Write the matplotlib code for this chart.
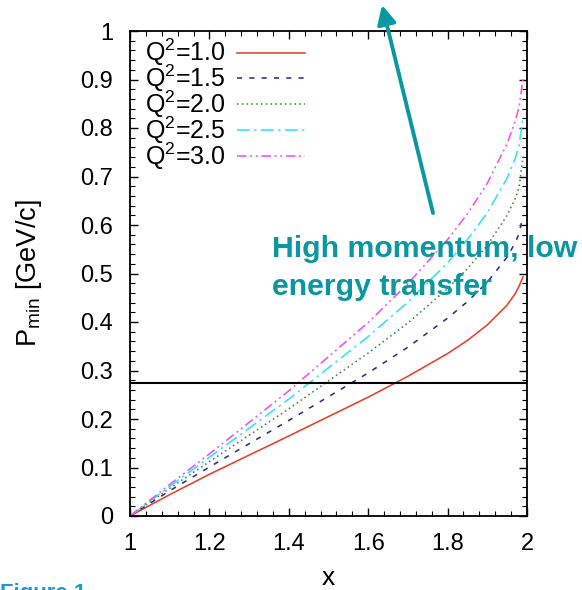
import matplotlib.pyplot as plt

# x (Bjorken x) sample points and P_min [GeV/c]
x = [1.0, 1.1, 1.2, 1.4, 1.6, 1.7, 1.8, 1.85, 1.9, 1.95, 1.97, 1.98, 1.99]
p_q2_10 = [0, 0.044, 0.086, 0.165, 0.245, 0.288, 0.335, 0.362, 0.394, 0.435, 0.458, 0.474, 0.493]
p_q2_15 = [0, 0.052, 0.101, 0.197, 0.295, 0.348, 0.408, 0.442, 0.482, 0.534, 0.563, 0.582, 0.620]
p_q2_20 = [0, 0.057, 0.112, 0.221, 0.336, 0.398, 0.469, 0.510, 0.558, 0.620, 0.654, 0.677, 0.741]
p_q2_25 = [0, 0.061, 0.121, 0.241, 0.370, 0.441, 0.522, 0.570, 0.625, 0.697, 0.737, 0.763, 0.823]
p_q2_30 = [0, 0.065, 0.128, 0.258, 0.399, 0.479, 0.570, 0.623, 0.686, 0.768, 0.813, 0.843, 0.902]
q2_labels = ['1.0', '1.5', '2.0', '2.5', '3.0']
p_cut = 0.275

xticks = [1, 1.2, 1.4, 1.6, 1.8, 2]
xtick_labels = ['1', '1.2', '1.4', '1.6', '1.8', '2']
yticks = [0, 0.1, 0.2, 0.3, 0.4, 0.5, 0.6, 0.7, 0.8, 0.9, 1]
ytick_labels = ['0', '0.1', '0.2', '0.3', '0.4', '0.5', '0.6', '0.7', '0.8', '0.9', '1']

plt.rcParams['font.family'] = ['Liberation Sans', 'DejaVu Sans']
plt.rcParams['mathtext.fontset'] = 'custom'
plt.rcParams['mathtext.rm'] = 'Liberation Sans'
plt.rcParams['mathtext.it'] = 'Liberation Sans:italic'

fig = plt.figure(figsize=(5.82, 5.9), dpi=100)
ax = fig.add_axes([130 / 582, 74 / 590, 397 / 582, 485 / 590])

series = [p_q2_10, p_q2_15, p_q2_20, p_q2_25, p_q2_30]
colors = ['#e8402a', '#2b2b8f', '#3c8c3c', '#30e4f0', '#f050f0']
styles = ['-', (0, (3.2, 4.5)), (0, (1, 2)), (0, (8, 2.8, 1.4, 2.8)), (0, (6, 2.3, 1.2, 2.3, 1.2, 2.3))]

for vals, lab, c, ls in zip(series, q2_labels, colors, styles):
    ax.plot(x, vals, color=c, linestyle=ls, lw=1.15, label='Q$^{2}$=' + lab)

ax.axhline(p_cut, color='black', lw=1.5)

ax.set_xlim(1, 2)
ax.set_ylim(0, 1)
ax.set_xticks(xticks)
ax.set_xticklabels(xtick_labels)
ax.set_yticks(yticks)
ax.set_yticklabels(ytick_labels)
ax.set_xticks([1 + 0.04 * i for i in range(26)], minor=True)
ax.set_yticks([0.02 * i for i in range(51)], minor=True)
ax.tick_params(which='both', direction='in', top=True, right=True, labelsize=17, colors='black')
ax.tick_params(which='major', length=6, width=1.0, pad=12)
ax.tick_params(which='minor', length=3.5, width=0.8)
for sp in ax.spines.values():
    sp.set_linewidth(1.3)

ax.set_xlabel('x', fontsize=19, labelpad=8)
ax.set_ylabel('P$_{\\mathrm{min}}$ [GeV/c]', fontsize=19.5, labelpad=26)

ax.legend(loc='upper left', bbox_to_anchor=(0.031, 0.993), frameon=False, fontsize=18,
          markerfirst=False, handlelength=2.7, handletextpad=0.48, labelspacing=-0.22,
          borderpad=0.1, borderaxespad=0)

teal = '#0a97a0'
fig.text(272 / 582, (590 - 257) / 590, 'High momentum, low', color=teal,
         fontsize=21.8, fontweight='bold', va='baseline', ha='left')
fig.text(272 / 582, (590 - 295) / 590, 'energy transfer', color=teal,
         fontsize=21.8, fontweight='bold', va='baseline', ha='left')
ax.annotate('', xy=(382 / 582, 585 / 590), xytext=(433 / 582, 377 / 590),
            xycoords='figure fraction', textcoords='figure fraction',
            arrowprops=dict(arrowstyle='-|>', color=teal, lw=2.8, mutation_scale=28,
                            shrinkA=0, shrinkB=0))

fig.text(0.0, -0.024, 'Figure 1', color='#1a9ad6', fontsize=16, fontweight='bold', va='bottom')

fig.savefig('out.png', dpi=100)
